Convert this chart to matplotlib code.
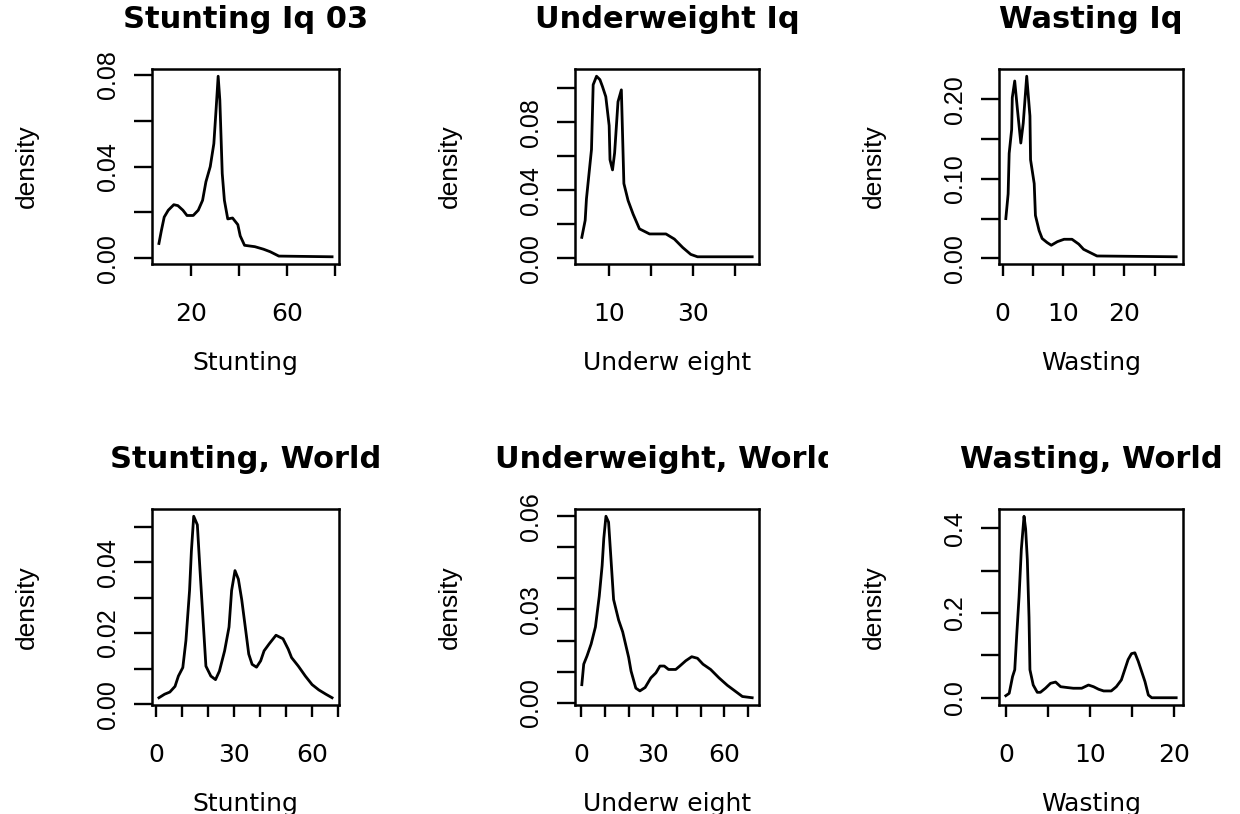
import matplotlib
matplotlib.use("Agg")
import matplotlib.pyplot as plt
from matplotlib.transforms import Bbox, TransformedBbox

# density curves (x, density)
stunt_iq_x = [6.7, 7.7, 8.9, 10.6, 12.9, 14.6, 16.7, 18.4, 21.0, 23.1, 24.9, 26.3, 28.1, 29.6,
              30.6, 31.4, 32.1, 33.1, 34.0, 35.4, 37.4, 39.6, 40.6, 42.4, 46.7, 50.3, 53.1,
              56.7, 78.9]
stunt_iq_y = [0.0065, 0.012, 0.018, 0.021, 0.0234, 0.023, 0.021, 0.0187, 0.0187, 0.021, 0.0253,
              0.0334, 0.040, 0.050, 0.066, 0.0794, 0.069, 0.037, 0.0253, 0.0172, 0.0176,
              0.0147, 0.0098, 0.0057, 0.0051, 0.004, 0.0029, 0.001, 0.0007]

under_iq_x = [3.5, 4.3, 4.6, 5.8, 6.2, 7.0, 7.8, 8.4, 9.2, 10.0, 10.2, 10.8, 11.3, 12.1, 12.9,
              13.5, 14.5, 15.7, 17.2, 19.6, 23.5, 25.5, 27.5, 29.4, 31.0, 44.0]
under_iq_y = [0.0124, 0.0224, 0.035, 0.064, 0.102, 0.107, 0.105, 0.101, 0.095, 0.078, 0.058,
              0.052, 0.062, 0.092, 0.099, 0.044, 0.034, 0.026, 0.0174, 0.0144, 0.0144,
              0.0114, 0.0064, 0.0024, 0.001, 0.001]

wast_iq_x = [0.54, 0.92, 1.09, 1.5, 1.6, 2.0, 2.45, 3.0, 3.4, 3.97, 4.5, 4.6, 5.2, 5.4, 6.0,
             6.5, 7.3, 8.0, 9.0, 10.1, 11.4, 12.5, 13.3, 14.4, 15.5, 28.5]
wast_iq_y = [0.05, 0.081, 0.132, 0.162, 0.202, 0.223, 0.187, 0.145, 0.170, 0.229, 0.179, 0.124,
             0.094, 0.054, 0.035, 0.025, 0.020, 0.0165, 0.021, 0.024, 0.024, 0.018, 0.0114,
             0.0072, 0.003, 0.002]

stunt_w_x = [1.1, 3.3, 5.3, 7.3, 8.6, 10.3, 11.5, 12.9, 13.6, 14.5, 15.9, 16.9, 18.1, 19.2,
             21.1, 22.9, 24.4, 26.4, 28.1, 29.1, 30.4, 31.7, 33.0, 34.7, 35.7, 37.0, 38.7,
             40.3, 41.6, 43.6, 46.2, 48.9, 50.9, 52.2, 54.8, 57.5, 60.1, 62.7, 65.4, 67.8]
stunt_w_y = [0.0018, 0.0028, 0.0034, 0.005, 0.0079, 0.0103, 0.0179, 0.032, 0.043, 0.0529,
             0.0505, 0.038, 0.0237, 0.0107, 0.0079, 0.0069, 0.0093, 0.015, 0.0217, 0.032,
             0.0376, 0.0352, 0.0294, 0.0198, 0.0141, 0.0112, 0.0104, 0.0122, 0.015, 0.017,
             0.0194, 0.0184, 0.0155, 0.0131, 0.0107, 0.0079, 0.0055, 0.004, 0.0028, 0.0018]

under_w_x = [0.3, 1.1, 2.5, 4.2, 6.0, 7.6, 8.8, 9.5, 10.4, 11.5, 12.5, 13.6, 15.7, 17.4, 19.9,
             20.9, 22.9, 24.6, 26.8, 29.2, 31.3, 33.0, 34.8, 36.6, 39.6, 41.3, 43.8, 46.3,
             48.7, 51.0, 54.2, 57.7, 61.2, 64.7, 67.5, 71.6]
under_w_y = [0.0058, 0.0124, 0.0151, 0.0189, 0.0244, 0.0343, 0.0441, 0.0529, 0.060, 0.0581,
             0.0463, 0.0332, 0.0266, 0.0228, 0.0146, 0.0102, 0.0047, 0.0038, 0.0049, 0.008,
             0.0096, 0.0118, 0.0118, 0.0107, 0.0107, 0.0118, 0.0135, 0.0148, 0.0143, 0.0124,
             0.0107, 0.008, 0.0056, 0.0036, 0.002, 0.0016]

wast_w_x = [0.0, 0.4, 0.6, 0.8, 1.06, 1.3, 1.57, 1.84, 2.16, 2.35, 2.55, 2.75, 2.86, 3.25, 3.73,
            4.1, 4.7, 5.3, 5.9, 6.5, 7.3, 8.0, 9.0, 9.8, 10.4, 11.0, 11.6, 12.5, 13.1, 13.7,
            14.1, 14.5, 14.9, 15.3, 15.7, 16.1, 16.5, 16.9, 17.3, 20.2]
wast_w_y = [0.0048, 0.0104, 0.030, 0.050, 0.066, 0.150, 0.238, 0.35, 0.428, 0.398, 0.326, 0.19,
            0.066, 0.030, 0.0128, 0.0128, 0.0224, 0.034, 0.037, 0.026, 0.024, 0.0224, 0.0224,
            0.030, 0.026, 0.020, 0.016, 0.016, 0.026, 0.042, 0.066, 0.090, 0.104, 0.106,
            0.086, 0.062, 0.038, 0.0064, 0.0, 0.0]

titles = ["Stunting Iq 03", "Underweight Iq", "Wasting Iq",
          "Stunting, World", "Underweight, World", "Wasting, World"]
xlabels = ["Stunting", "Underw eight", "Wasting", "Stunting", "Underw eight", "Wasting"]

xticks = [[20, 40, 60, 80], [10, 20, 30, 40], [0, 5, 10, 15, 20, 25],
          [0, 10, 20, 30, 40, 50, 60, 70], [0, 10, 20, 30, 40, 50, 60, 70], [0, 5, 10, 15, 20]]
xticklabels = [["20", "", "60", ""], ["10", "", "30", ""], ["0", "", "10", "", "20", ""],
               ["0", "", "", "30", "", "", "60", ""], ["0", "", "", "30", "", "", "60", ""],
               ["0", "", "10", "", "20"]]
yticks = [[0, 0.02, 0.04, 0.06, 0.08], [0, 0.02, 0.04, 0.06, 0.08, 0.10],
          [0, 0.05, 0.10, 0.15, 0.20], [0, 0.01, 0.02, 0.03, 0.04, 0.05],
          [0, 0.01, 0.02, 0.03, 0.04, 0.05, 0.06], [0, 0.1, 0.2, 0.3, 0.4]]
yticklabels = [["0.00", "", "0.04", "", "0.08"], ["0.00", "", "0.04", "", "0.08", ""],
               ["0.00", "", "0.10", "", "0.20"], ["0.00", "", "0.02", "", "0.04", ""],
               ["0.00", "", "", "0.03", "", "", "0.06"], ["0.0", "", "0.2", "", "0.4"]]

curves = [(stunt_iq_x, stunt_iq_y), (under_iq_x, under_iq_y), (wast_iq_x, wast_iq_y),
          (stunt_w_x, stunt_w_y), (under_w_x, under_w_y), (wast_w_x, wast_w_y)]

W, H = 1240, 814
fig = plt.figure(figsize=(W / 100, H / 100), dpi=100)

# plot boxes in pixels: left, top, width, height
col_left = [152, 575, 999]
col_width = [187, 184, 184]
row_top = [69, 509]
row_height = [195, 196]
# title clipping regions (like R figure regions)
col_clip = [(0, 414), (414, 828), (828, 1240)]

rot_font = ["Liberation Sans", "DejaVu Sans"]
hor_font = ["DejaVu Sans"]

for i, (x, y) in enumerate(curves):
    r, c = divmod(i, 3)
    w, h = col_width[c], row_height[r]
    ax = fig.add_axes([col_left[c] / W, 1 - (row_top[r] + h) / H, w / W, h / H])
    ax.plot(x, y, color="black", lw=2.0)
    ax.margins(0.04)

    ax.set_xticks(xticks[i], xticklabels[i], fontfamily=hor_font, fontsize=18)
    ax.set_yticks(yticks[i], yticklabels[i], fontfamily=rot_font, fontsize=18,
                  rotation=90, va="center")
    ax.tick_params(axis="x", length=8.6, width=1.7, pad=18.5)
    ax.tick_params(axis="y", length=13, width=1.7, pad=10)
    for s in ax.spines.values():
        s.set_linewidth(1.8)

    ax.set_xlabel(xlabels[i], fontfamily=hor_font, fontsize=18, va="baseline")
    ax.xaxis.set_label_coords(0.5, -106 / h)
    ax.set_ylabel("density", fontfamily=rot_font, fontsize=19, va="center")
    ax.yaxis.set_label_coords(-125 / w, 0.5)

    t = ax.set_title(titles[i], fontfamily="DejaVu Sans", fontweight="bold",
                     fontsize=22, pad=29.5)
    x0, x1 = col_clip[c]
    t.set_clip_box(TransformedBbox(Bbox.from_extents(x0 / W, 0, x1 / W, 1), fig.transFigure))
    t.set_clip_on(True)

fig.savefig("out.png", dpi=100)
